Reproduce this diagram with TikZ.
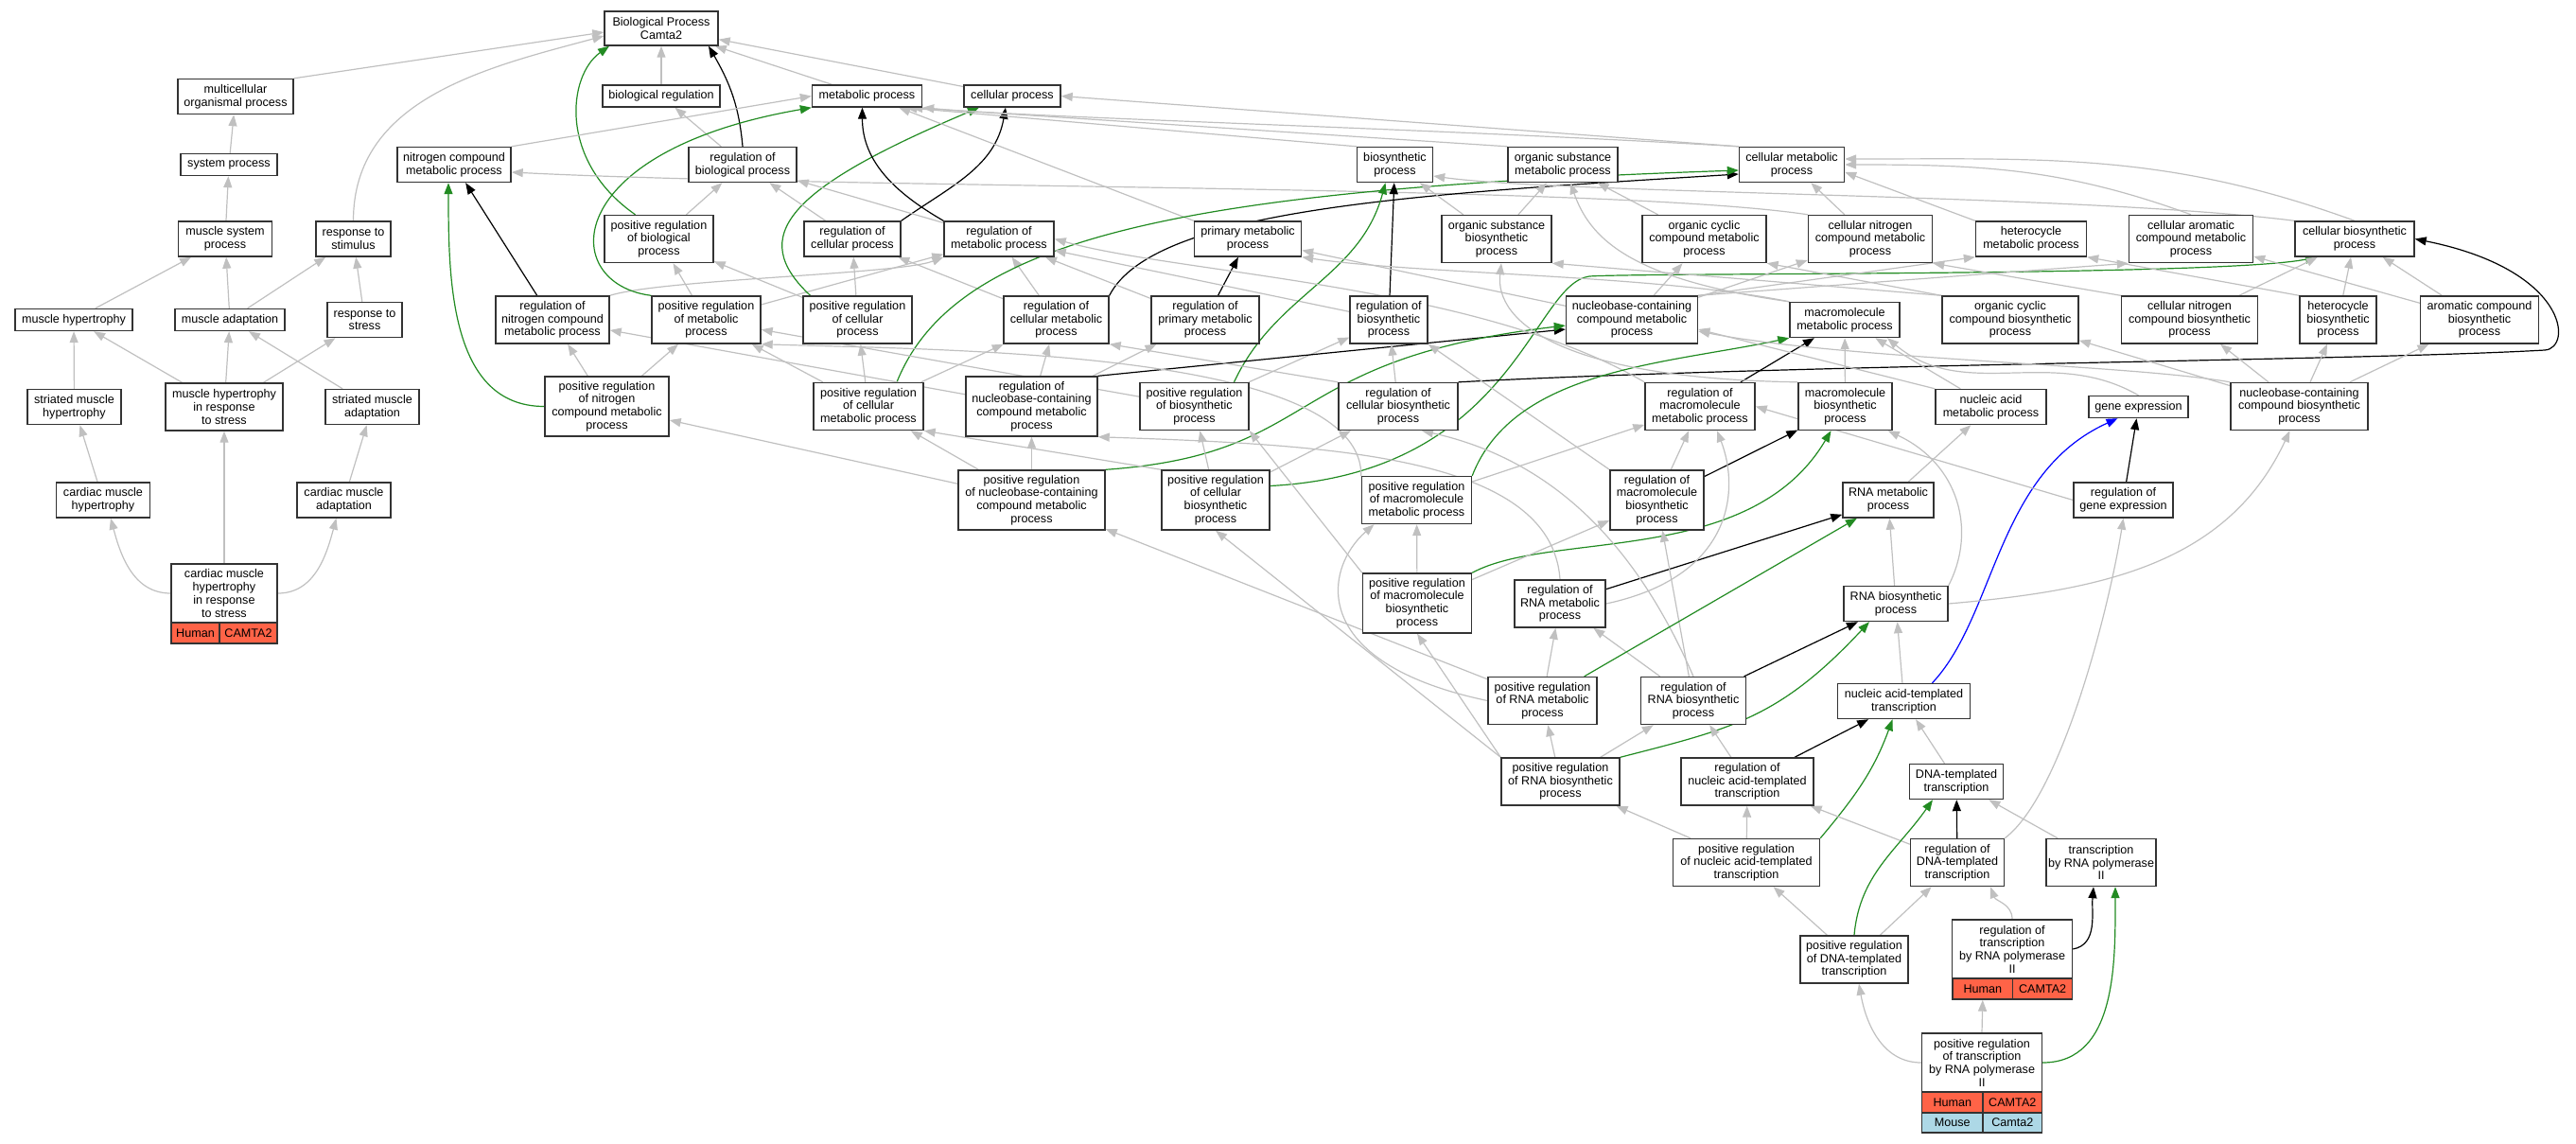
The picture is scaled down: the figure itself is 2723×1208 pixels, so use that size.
\documentclass[tikz,border=0pt]{standalone}
\usepackage{fontspec}
\setmainfont{Liberation Sans}
\usetikzlibrary{arrows.meta,backgrounds}
\definecolor{tomato}{RGB}{255,99,71}
\definecolor{lightblue}{RGB}{173,216,230}
\definecolor{forest}{RGB}{34,139,34}
\definecolor{edgegray}{RGB}{192,192,192}
\begin{document}
\begin{tikzpicture}[x=1pt,y=-1pt]
  \tikzstyle{term}=[rectangle, draw=black!80, line width=1.4pt, fill=white, align=center, inner sep=0pt, font=\fontsize{12.6}{13.7}\selectfont]
  \tikzstyle{human}=[term, fill=tomato]
  \tikzstyle{mouse}=[term, fill=lightblue]
  \tikzstyle{isa}=[draw=edgegray, line width=1.2pt, -{Triangle[length=12pt,width=9pt]}]
  \tikzstyle{reg}=[isa, draw=black]
  \tikzstyle{preg}=[isa, draw=forest]
  \tikzstyle{partof}=[isa, draw=blue]
  \useasboundingbox (0,0) rectangle (2723,1208);
  \node[term, minimum width=120, minimum height=36] (bp) at (699,30) {Biological Process\\Camta2};
  \node[term, minimum width=122, minimum height=37] (mop) at (249,102) {multicellular\\organismal process};
  \node[term, minimum width=124, minimum height=23] (breg) at (699,101.5) {biological regulation};
  \node[term, minimum width=116, minimum height=23] (mp) at (916.5,101.5) {metabolic process};
  \node[term, minimum width=102, minimum height=23] (cp) at (1070,101.5) {cellular process};
  \node[term, minimum width=102, minimum height=23] (sysp) at (242,174) {system process};
  \node[term, minimum width=120, minimum height=37] (ncmp) at (480,174) {nitrogen compound\\metabolic process};
  \node[term, minimum width=114, minimum height=37] (rbp) at (785,174) {regulation of\\biological process};
  \node[term, minimum width=80, minimum height=37] (bsp) at (1474.5,174) {biosynthetic\\process};
  \node[term, minimum width=116, minimum height=37] (osmp) at (1652,174) {organic substance\\metabolic process};
  \node[term, minimum width=111, minimum height=37] (cmp) at (1894,174) {cellular metabolic\\process};
  \node[term, minimum width=99, minimum height=37] (msp) at (238,252.5) {muscle system\\process};
  \node[term, minimum width=79, minimum height=37] (rts) at (373.5,252.5) {response to\\stimulus};
  \node[term, minimum width=115, minimum height=50] (prbp) at (696.5,252.5) {positive regulation\\of biological\\process};
  \node[term, minimum width=102, minimum height=37] (rcp) at (901,252.5) {regulation of\\cellular process};
  \node[term, minimum width=116, minimum height=37] (rmp) at (1056,252.5) {regulation of\\metabolic process};
  \node[term, minimum width=113, minimum height=37] (pmp) at (1319,252.5) {primary metabolic\\process};
  \node[term, minimum width=116, minimum height=50] (osbp) at (1582,252.5) {organic substance\\biosynthetic\\process};
  \node[term, minimum width=131, minimum height=50] (occmp) at (1801.5,252.5) {organic cyclic\\compound metabolic\\process};
  \node[term, minimum width=131, minimum height=50] (cncmp) at (1977,252.5) {cellular nitrogen\\compound metabolic\\process};
  \node[term, minimum width=117, minimum height=37] (hmp) at (2147,252.5) {heterocycle\\metabolic process};
  \node[term, minimum width=131, minimum height=50] (cacmp) at (2316,252.5) {cellular aromatic\\compound metabolic\\process};
  \node[term, minimum width=126, minimum height=37] (cbp) at (2489,252.5) {cellular biosynthetic\\process};
  \node[term, minimum width=124, minimum height=23] (mh) at (78,338) {muscle hypertrophy};
  \node[term, minimum width=116, minimum height=23] (ma) at (243,338) {muscle adaptation};
  \node[term, minimum width=79, minimum height=37] (rst) at (385.5,338) {response to\\stress};
  \node[term, minimum width=120, minimum height=50] (rncmp) at (584,338) {regulation of\\nitrogen compound\\metabolic process};
  \node[term, minimum width=115, minimum height=50] (prmp) at (746.5,338) {positive regulation\\of metabolic\\process};
  \node[term, minimum width=115, minimum height=50] (prcp) at (906.5,338) {positive regulation\\of cellular\\process};
  \node[term, minimum width=111, minimum height=50] (rcmp) at (1116.5,338) {regulation of\\cellular metabolic\\process};
  \node[term, minimum width=114, minimum height=50] (rpmp) at (1274,338) {regulation of\\primary metabolic\\process};
  \node[term, minimum width=82, minimum height=50] (rbsp) at (1468,338) {regulation of\\biosynthetic\\process};
  \node[term, minimum width=139, minimum height=50] (nbcmp) at (1725,338) {nucleobase-containing\\compound metabolic\\process};
  \node[term, minimum width=116, minimum height=37] (mmp) at (1950,338) {macromolecule\\metabolic process};
  \node[term, minimum width=144, minimum height=50] (occbp) at (2125,338) {organic cyclic\\compound biosynthetic\\process};
  \node[term, minimum width=144, minimum height=50] (cncbp) at (2314.5,338) {cellular nitrogen\\compound biosynthetic\\process};
  \node[term, minimum width=81, minimum height=50] (hbp) at (2471.5,338) {heterocycle\\biosynthetic\\process};
  \node[term, minimum width=125, minimum height=50] (acbp) at (2621,338) {aromatic compound\\biosynthetic\\process};
  \node[term, minimum width=99, minimum height=37] (smh) at (78.5,430) {striated muscle\\hypertrophy};
  \node[term, minimum width=124, minimum height=50] (mhrs) at (237,430) {muscle hypertrophy\\in response\\to stress};
  \node[term, minimum width=99, minimum height=37] (sma) at (393.5,430) {striated muscle\\adaptation};
  \node[term, minimum width=131, minimum height=63] (prncmp) at (641.5,429.5) {positive regulation\\of nitrogen\\compound metabolic\\process};
  \node[term, minimum width=116, minimum height=50] (prcmp) at (918,429.5) {positive regulation\\of cellular\\metabolic process};
  \node[term, minimum width=139, minimum height=63] (rnbcmp) at (1090.5,429.5) {regulation of\\nucleobase-containing\\compound metabolic\\process};
  \node[term, minimum width=115, minimum height=50] (prbsp) at (1262.5,429.5) {positive regulation\\of biosynthetic\\process};
  \node[term, minimum width=126, minimum height=50] (rcbp) at (1478,429.5) {regulation of\\cellular biosynthetic\\process};
  \node[term, minimum width=116, minimum height=50] (rmmp) at (1797,429.5) {regulation of\\macromolecule\\metabolic process};
  \node[term, minimum width=99, minimum height=50] (mbp) at (1950.5,429.5) {macromolecule\\biosynthetic\\process};
  \node[term, minimum width=117, minimum height=37] (namp) at (2104.5,430) {nucleic acid\\metabolic process};
  \node[term, minimum width=105, minimum height=23] (ge) at (2260.5,430) {gene expression};
  \node[term, minimum width=145, minimum height=50] (nbcbp) at (2430.5,429.5) {nucleobase-containing\\compound biosynthetic\\process};
  \node[term, minimum width=99, minimum height=37] (cmh) at (109,528.5) {cardiac muscle\\hypertrophy};
  \node[term, minimum width=99, minimum height=37] (cma) at (363.5,528.5) {cardiac muscle\\adaptation};
  \node[term, minimum width=155, minimum height=63] (prnbcmp) at (1090.5,528.5) {positive regulation\\of nucleobase-containing\\compound metabolic\\process};
  \node[term, minimum width=114, minimum height=63] (prcbp) at (1285,528.5) {positive regulation\\of cellular\\biosynthetic\\process};
  \node[term, minimum width=116, minimum height=50] (prmmp) at (1497.5,528.5) {positive regulation\\of macromolecule\\metabolic process};
  \node[term, minimum width=99, minimum height=63] (rmbp) at (1751.5,528.5) {regulation of\\macromolecule\\biosynthetic\\process};
  \node[term, minimum width=96, minimum height=37] (rnamp) at (1996,528.5) {RNA metabolic\\process};
  \node[term, minimum width=105, minimum height=37] (rge) at (2244.5,528.5) {regulation of\\gene expression};
  \node[term, minimum width=112, minimum height=62] (cmhrs) at (237,627) {cardiac muscle\\hypertrophy\\in response\\to stress};
  \node[human, minimum width=51, minimum height=22] (cmhrsh) at (206.5,669) {Human};
  \node[human, minimum width=61, minimum height=22] (cmhrsc) at (262.5,669) {CAMTA2};
  \node[term, minimum width=115, minimum height=63] (prmbp) at (1498,637.5) {positive regulation\\of macromolecule\\biosynthetic\\process};
  \node[term, minimum width=96, minimum height=50] (rrmp) at (1649,638) {regulation of\\RNA metabolic\\process};
  \node[term, minimum width=110, minimum height=37] (rnabp) at (2004,638) {RNA biosynthetic\\process};
  \node[term, minimum width=115, minimum height=50] (prrmp) at (1630.5,740.5) {positive regulation\\of RNA metabolic\\process};
  \node[term, minimum width=111, minimum height=50] (rrbp) at (1790,740.5) {regulation of\\RNA biosynthetic\\process};
  \node[term, minimum width=140, minimum height=37] (natt) at (2012.5,741) {nucleic acid-templated\\transcription};
  \node[term, minimum width=125, minimum height=50] (prrbp) at (1649.5,826) {positive regulation\\of RNA biosynthetic\\process};
  \node[term, minimum width=140, minimum height=50] (rnatt) at (1847,826) {regulation of\\nucleic acid-templated\\transcription};
  \node[term, minimum width=99, minimum height=37] (dtt) at (2068,826) {DNA-templated\\transcription};
  \node[term, minimum width=155, minimum height=50] (prnatt) at (1846,911.5) {positive regulation\\of nucleic acid-templated\\transcription};
  \node[term, minimum width=99, minimum height=50] (rdtt) at (2069,911.5) {regulation of\\DNA-templated\\transcription};
  \node[term, minimum width=116, minimum height=50] (trp) at (2221,911.5) {transcription\\by RNA polymerase\\II};
  \node[term, minimum width=114, minimum height=50] (prdtt) at (1960,1014) {positive regulation\\of DNA-templated\\transcription};
  \node[term, minimum width=127, minimum height=62] (rtrp) at (2127,1003) {regulation of\\transcription\\by RNA polymerase\\II};
  \node[human, minimum width=63.6, minimum height=22] (rtrph) at (2095.8,1045) {Human};
  \node[human, minimum width=63, minimum height=22] (rtrpc) at (2159.1,1045) {CAMTA2};
  \node[term, minimum width=127, minimum height=62] (prtrp) at (2095,1123) {positive regulation\\of transcription\\by RNA polymerase\\II};
  \node[human, minimum width=64.4, minimum height=22] (prtrph) at (2063.8,1165) {Human};
  \node[human, minimum width=62.6, minimum height=22] (prtrpc) at (2127.3,1165) {CAMTA2};
  \node[mouse, minimum width=64.4, minimum height=21] (prtrpm) at (2063.8,1186.5) {Mouse};
  \node[mouse, minimum width=62.6, minimum height=21] (prtrpg) at (2127.3,1186.5) {Camta2};
  \coordinate (G1) at (1680,292);
  \coordinate (T1) at (2690,370);
  \begin{scope}[on background layer]
    \draw[isa] (mop.north east) -- ([yshift=-4pt]bp.west);
    \draw[isa] (rts.north) to[out=90,in=195] ([yshift=-8pt]bp.west);
    \draw[isa] (sysp) -- (mop);
    \draw[isa] (msp) -- (sysp);
    \draw[isa] (mh) -- (msp);
    \draw[isa] (ma) -- (msp);
    \draw[isa] (ma) -- (rts);
    \draw[isa] (rst) -- (rts);
    \draw[isa] (smh) -- (mh);
    \draw[isa] (mhrs) -- (mh);
    \draw[isa] (mhrs) -- (ma);
    \draw[isa] (mhrs) -- (rst);
    \draw[isa] (sma) -- (ma);
    \draw[isa] (cmh) -- (smh);
    \draw[isa] (cma) -- (sma);
    \draw[isa] (cmhrs) -- (mhrs);
    \draw[isa] (cmhrs.west) to[out=180,in=-75] ([xshift=8pt]cmh.south);
    \draw[isa] (cmhrs.east) to[out=0,in=-105] ([xshift=-8pt]cma.south);
    \draw[isa] (breg) -- (bp);
    \draw[isa] (mp) -- (bp);
    \draw[isa] (cp) -- (bp);
    \draw[reg] (rbp.north) to[out=95,in=-60] ([xshift=50pt]bp.south);
    \draw[isa] (rbp) -- (breg);
    \draw[preg] ([xshift=-25pt]prbp.north) .. controls (590,170) and (600,80) .. ([xshift=-55pt]bp.south);
    \draw[isa] (prbp) -- (rbp);
    \draw[isa] (ncmp.north east) -- (mp.west);
    \draw[reg] (rncmp) -- (ncmp);
    \draw[isa] (rncmp.north east) .. controls (700,295) and (950,290) .. (rmp.south west);
    \draw[preg] (prncmp.west) to[out=180,in=-90] ([xshift=-6pt]ncmp.south);
    \draw[isa] (prncmp) -- (rncmp);
    \draw[isa] (prncmp) -- (prmp);
    \draw[preg] (prmp.north west) .. controls (590,300) and (590,160) .. (mp.south west);
    \draw[isa] (prmp) -- (prbp);
    \draw[isa] (prmp) -- (rmp);
    \draw[preg] ([xshift=-50pt]prcp.north) .. controls (790,250) and (830,200) .. ([xshift=-35pt]cp.south);
    \draw[isa] (prcp) -- (prbp);
    \draw[isa] (prcp) -- (rcp);
    \draw[reg] (rcp.north east) to[out=35,in=-100] ([xshift=-7pt]cp.south);
    \draw[isa] (rcp) -- (rbp);
    \draw[reg] (rmp.north west) to[out=150,in=-90] ([xshift=-5pt]mp.south);
    \draw[isa] (rmp) -- (rbp);
    \draw[isa] (pmp.north west) -- ([xshift=-25pt]mp.south east);
    \draw[isa] (osmp.north west) -- ([xshift=-12pt]mp.south east);
    \draw[isa] (bsp.north west) -- ([xshift=-18pt]mp.south east);
    \draw[isa] (cmp.north west) .. controls (1500,135) and (1100,125) .. (mp.south east);
    \draw[isa] (cmp.north west) -- (cp.east);
    \draw[isa] (cncmp.north west) .. controls (1700,195) and (900,200) .. ([yshift=-8pt]ncmp.east);
    \draw[reg] (rcmp.north east) .. controls (1220,220) and (1500,205) .. ([yshift=-10pt]cmp.west);
    \draw[isa] (rcmp) -- (rmp);
    \draw[isa] (rcmp) -- (rcp);
    \draw[preg] ([xshift=30pt]prcmp.north) .. controls (1010,250) and (1250,200) .. ([yshift=-6pt]cmp.west);
    \draw[isa] (prcmp) -- (prmp);
    \draw[isa] (prcmp) -- (prcp);
    \draw[isa] (prcmp) -- (rcmp);
    \draw[reg] (rpmp) -- (pmp);
    \draw[isa] (rpmp) -- (rmp);
    \draw[reg] (rbsp) -- (bsp);
    \draw[isa] (rbsp) -- (rmp);
    \draw[preg] ([xshift=42pt]prbsp.north) to[out=65,in=-105] ([xshift=-10pt]bsp.south);
    \draw[isa] (prbsp) -- (rbsp);
    \draw[isa] (prbsp) -- (prmp);
    \draw[reg] (rnbcmp.north east) -- ([yshift=-10pt]nbcmp.west);
    \draw[isa] (rnbcmp) -- (rcmp);
    \draw[isa] (rnbcmp) -- (rpmp);
    \draw[isa] (rnbcmp) -- (rncmp);
    \draw[preg] (prnbcmp.north east) .. controls (1400,480) and (1350,380) .. ([yshift=-6pt]nbcmp.west);
    \draw[isa] (prnbcmp) -- (rnbcmp);
    \draw[isa] (prnbcmp) -- (prcmp);
    \draw[isa] (prnbcmp) -- (prncmp);
    \draw[preg] ([yshift=15pt]prcbp.east) .. controls (1600,500) and (1620,300) .. (G1) .. controls (1740,288) and (2350,292) .. ([xshift=-40pt]cbp.south);
    \draw[isa] (prcbp) -- (prbsp);
    \draw[isa] (prcbp) -- (rcbp);
    \draw[isa] (prcbp.north west) -- (prcmp.south east);
    \draw[reg] (rcbp.north east) .. controls (1900,385) and (2500,381) .. (T1) .. controls (2720,368) and (2715,285) .. (cbp.east);
    \draw[isa] (rcbp) -- (rbsp);
    \draw[isa] (rcbp.north west) -- (rcmp.south east);
    \draw[reg] (rmmp) -- (mmp);
    \draw[isa] (rmmp.north west) .. controls (1560,300) and (1250,290) .. (rmp.east);
    \draw[reg] (rmbp) -- (mbp);
    \draw[isa] (rmbp) -- (rmmp);
    \draw[isa] (rmbp.north west) -- (rbsp.south east);
    \draw[preg] (prmmp.north east) .. controls (1600,390) and (1760,385) .. (mmp.south west);
    \draw[isa] (prmmp) -- (rmmp);
    \draw[isa] (prmmp.north west) .. controls (1440,370) and (1000,370) .. (prmp.south east);
    \draw[preg] (prmbp.north east) .. controls (1640,560) and (1850,600) .. ([xshift=-15pt]mbp.south);
    \draw[isa] (prmbp) -- (prmmp);
    \draw[isa] (prmbp) -- (rmbp);
    \draw[isa] (prmbp.north west) -- (prbsp.south east);
    \draw[reg] (rrmp) -- (rnamp);
    \draw[isa] (rrmp.east) .. controls (1830,610) and (1840,520) .. ([xshift=18pt]rmmp.south);
    \draw[isa] (rrmp.north) .. controls (1640,480) and (1400,470) .. (rnbcmp.south east);
    \draw[reg] (rrbp) -- (rnabp);
    \draw[isa] (rrbp) -- (rrmp);
    \draw[isa] (rrbp) -- (rmbp);
    \draw[isa] (rrbp.north) .. controls (1740,600) and (1660,490) .. ([xshift=25pt]rcbp.south);
    \draw[preg] (prrmp) -- (rnamp);
    \draw[isa] (prrmp) -- (rrmp);
    \draw[isa] (prrmp.west) .. controls (1380,700) and (1400,600) .. ([xshift=-45pt]prmmp.south);
    \draw[isa] (prrmp) -- (prnbcmp);
    \draw[preg] (prrbp.north east) .. controls (1830,770) and (1880,760) .. ([xshift=-28pt]rnabp.south);
    \draw[isa] (prrbp) -- (prrmp);
    \draw[isa] (prrbp) -- (rrbp);
    \draw[isa] (prrbp.north west) -- (prmbp.south);
    \draw[isa] (prrbp.north west) -- (prcbp.south);
    \draw[reg] (rnatt) -- (natt);
    \draw[isa] (rnatt) -- (rrbp);
    \draw[preg] (prnatt.north east) to[out=50,in=-110] ([xshift=-12pt]natt.south);
    \draw[isa] (prnatt) -- (rnatt);
    \draw[isa] (prnatt) -- (prrbp);
    \draw[reg] (rdtt) -- (dtt);
    \draw[isa] (rdtt) -- (rnatt);
    \draw[isa] (rdtt.north east) .. controls (2180,840) and (2230,640) .. (rge.south);
    \draw[isa] (dtt) -- (natt);
    \draw[isa] (trp) -- (dtt);
    \draw[preg] (prdtt.north) to[out=85,in=-125] ([xshift=-25pt]dtt.south);
    \draw[isa] (prdtt) -- (prnatt);
    \draw[isa] (prdtt) -- (rdtt);
    \draw[reg] (rtrp.east) to[out=10,in=-95] ([xshift=-8pt]trp.south);
    \draw[isa] (rtrp.north) to[out=90,in=-70] ([xshift=35pt]rdtt.south);
    \draw[preg] (prtrp.east) to[out=0,in=-90] ([xshift=15pt]trp.south);
    \draw[isa] (prtrp.north) -- (rtrph.south);
    \draw[isa] (prtrp.west) to[out=180,in=-80] ([xshift=5pt]prdtt.south);
    \draw[isa] (natt) -- (rnabp);
    \draw[partof] ([xshift=30pt]natt.north) .. controls (2110,650) and (2110,500) .. ([xshift=-22pt]ge.south);
    \draw[isa] (rnabp) -- (rnamp);
    \draw[isa] (rnabp.east) to[out=5,in=-115] ([xshift=-10pt]nbcbp.south);
    \draw[isa] (rnabp.north east) .. controls (2090,560) and (2070,490) .. ([xshift=-5pt]mbp.south east);
    \draw[isa] (rnamp) -- (namp);
    \draw[isa] (namp) -- (mmp);
    \draw[isa] (namp.north west) -- ([yshift=-10pt]nbcmp.east);
    \draw[reg] (rge) -- (ge);
    \draw[isa] (rge.west) -- (rmmp.east);
    \draw[isa] (ge.north) to[out=150,in=-40] ([xshift=45pt]mmp.south);
    \draw[isa] (mbp) -- (mmp);
    \draw[isa] (mbp.north west) .. controls (1650,400) and (1580,340) .. ([xshift=5pt]osbp.south);
    \draw[isa] (mmp.north west) .. controls (1750,290) and (1500,290) .. (pmp.south east);
    \draw[isa] (mmp.north west) .. controls (1720,295) and (1680,250) .. ([xshift=8pt]osmp.south);
    \draw[isa] (nbcmp) -- (pmp);
    \draw[isa] (nbcmp) -- (occmp);
    \draw[isa] (nbcmp) -- (cncmp);
    \draw[isa] (nbcmp.north east) -- (hmp.south west);
    \draw[isa] (nbcmp.north east) -- (cacmp.south west);
    \draw[isa] (nbcbp.north west) .. controls (2250,385) and (1950,380) .. ([yshift=-12pt]nbcmp.east);
    \draw[isa] (nbcbp) -- (occbp);
    \draw[isa] (nbcbp) -- (cncbp);
    \draw[isa] (nbcbp) -- (hbp);
    \draw[isa] (nbcbp) -- (acbp);
    \draw[isa] (osbp) -- (osmp);
    \draw[isa] (osbp) -- (bsp);
    \draw[isa] (occmp) -- (osmp);
    \draw[isa] (cncmp) -- (cmp);
    \draw[isa] (hmp.north west) -- ([yshift=-8pt]cmp.east);
    \draw[isa] (cacmp.north) to[out=160,in=0] (cmp.east);
    \draw[isa] (cbp.north) to[out=160,in=0] ([yshift=6pt]cmp.east);
    \draw[isa] (cbp.north west) .. controls (2200,205) and (1650,205) .. ([yshift=-12pt]bsp.east);
    \draw[isa] (occbp.north west) -- (occmp.south east);
    \draw[isa] (occbp.north west) -- (osbp.south east);
    \draw[isa] (cncbp.north west) -- (cncmp.south east);
    \draw[isa] (cncbp) -- (cbp);
    \draw[isa] (hbp.north west) -- (hmp.south east);
    \draw[isa] (hbp) -- (cbp);
    \draw[isa] (acbp) -- (cacmp);
    \draw[isa] (acbp) -- (cbp);
  \end{scope}
\end{tikzpicture}
\end{document}
